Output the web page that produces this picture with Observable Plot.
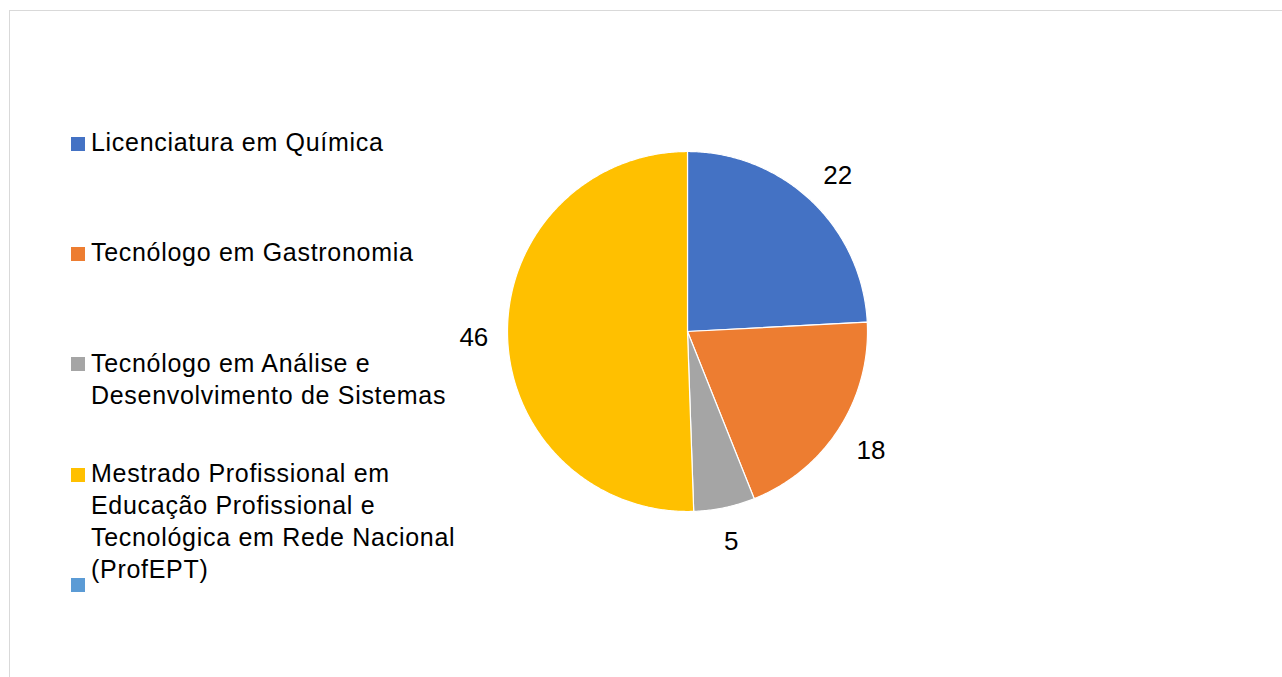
<!DOCTYPE html>
<html>
<head>
<meta charset="utf-8">
<script src="https://cdn.jsdelivr.net/npm/d3@7"></script>
<script src="https://cdn.jsdelivr.net/npm/@observablehq/plot@0.6"></script>
<style>
  html, body { margin: 0; padding: 0; background: #fff; overflow: hidden; }
  #page { position: relative; width: 1282px; height: 677px; overflow: hidden; font-family: "Liberation Sans", Arial, sans-serif; }
  #frame { position: absolute; left: 9px; top: 10px; width: 1400px; height: 800px; border: 1.5px solid #d9d9d9; box-sizing: border-box; }
  .lg-sq { position: absolute; width: 14px; height: 14px; }
  .lg-tx { position: absolute; font-size: 25px; line-height: 32px; color: #000; white-space: pre; letter-spacing: 0.7px; }
  #chart { position: absolute; }
</style>
</head>
<body>
<div id="page"><div id="frame"></div><div id="chart"></div></div>
<script>
// ---- data ----
const categories = [
  "Licenciatura em Química",
  "Tecnólogo em Gastronomia",
  "Tecnólogo em Análise e Desenvolvimento de Sistemas",
  "Mestrado Profissional em Educação Profissional e Tecnológica em Rede Nacional (ProfEPT)",
  ""
];
const legendLines = [
  "Licenciatura em Química",
  "Tecnólogo em Gastronomia",
  "Tecnólogo em Análise e\nDesenvolvimento de Sistemas",
  "Mestrado Profissional em\nEducação Profissional e\nTecnológica em Rede Nacional\n(ProfEPT)",
  ""
];
const values = [22, 18, 5, 46];
const colors = ["#4472c4", "#ed7d31", "#a5a5a5", "#ffc000", "#5b9bd5"];

// ---- layout ----
const W = 500, H = 500, R = 180, CX = 686.5, CY = 330.7;
const FS = 26;

const arcs = d3.pie().sort(null).value(d => d)(values);
const slicePts = [];
arcs.forEach((a, i) => {
  const cat = categories[i];
  slicePts.push({cat, x: 0, y: 0});
  const n = Math.max(2, Math.ceil((a.endAngle - a.startAngle) / (Math.PI / 360)));
  for (let k = 0; k <= n; k++) {
    const t = a.startAngle + (a.endAngle - a.startAngle) * k / n;
    slicePts.push({cat, x: R * Math.sin(t), y: -R * Math.cos(t)});
  }
});

const labels = arcs.map((a, i) => {
  const m = (a.startAngle + a.endAngle) / 2;
  const s = Math.sin(m), c = Math.cos(m);
  const txt = String(values[i]);
  const halfW = 0.556 * FS * txt.length / 2;
  const halfH = 12.5;
  const r = R + 19 + Math.abs(s) * halfW + Math.abs(c) * halfH;
  return {x: r * s, y: -r * c + 2, text: txt};
});

const plot = Plot.plot({
  width: W, height: H,
  margin: 0,
  x: {domain: [-W / 2, W / 2], axis: null},
  y: {domain: [H / 2, -H / 2], axis: null},
  color: {domain: categories, range: colors},
  style: {fontFamily: "'Liberation Sans', Arial, sans-serif", background: "transparent", overflow: "visible"},
  marks: [
    Plot.line(slicePts, {x: "x", y: "y", z: "cat", fill: "cat", stroke: "#ffffff", strokeWidth: 1.2, curve: "linear-closed", strokeLinejoin: "round"}),
    Plot.text(labels, {x: "x", y: "y", text: "text", fontSize: FS, fill: "#000"})
  ]
});
const chart = document.getElementById("chart");
chart.style.left = (CX - W / 2) + "px";
chart.style.top = (CY - H / 2) + "px";
chart.appendChild(plot);

// ---- legend ----
const page = document.getElementById("page");
const base0 = 150.7, step = 110.3;
categories.forEach((c, i) => {
  const baseline = base0 + step * i;
  const sq = document.createElement("div");
  sq.className = "lg-sq";
  sq.style.left = "71px";
  sq.style.top = (baseline - 14) + "px";
  sq.style.background = colors[i];
  page.appendChild(sq);
  const tx = document.createElement("div");
  tx.className = "lg-tx";
  tx.style.left = "91px";
  tx.style.top = (baseline - 24.7) + "px";
  tx.textContent = legendLines[i];
  page.appendChild(tx);
});
</script>
</body>
</html>
